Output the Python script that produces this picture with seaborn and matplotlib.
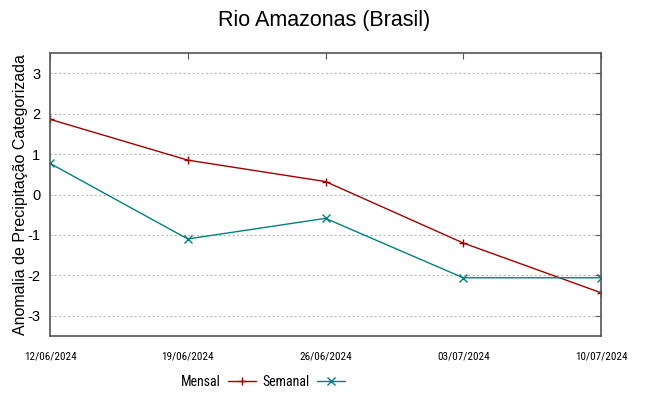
import pandas as pd
import matplotlib.pyplot as plt
import seaborn as sns
from matplotlib import font_manager

# Values
dates = ['12/06/2024', '19/06/2024', '26/06/2024', '03/07/2024', '10/07/2024']
mensal = [1.86, 0.85, 0.32, -1.20, -2.43]
semanal = [0.77, -1.10, -0.59, -2.06, -2.06]
series_names = ['Mensal', 'Semanal']
y_ticks = [-3, -2, -1, 0, 1, 2, 3]

x = pd.to_datetime(dates, format='%d/%m/%Y')

sns.set_style('white')
plt.rcParams['font.family'] = ['Liberation Sans', 'DejaVu Sans']
plt.rcParams['text.color'] = 'black'
plt.rcParams['axes.labelcolor'] = 'black'
plt.rcParams['xtick.color'] = 'black'
plt.rcParams['ytick.color'] = 'black'

# narrow font for the date labels and legend, if there is one
names = {f.name for f in font_manager.fontManager.ttflist}
narrow = 'Liberation Sans'
for cand in ['Liberation Sans Narrow', 'Roboto Condensed', 'DejaVu Sans Condensed', 'Open Sans Condensed']:
    if cand in names:
        narrow = cand
        break

fig = plt.figure(figsize=(6.49, 3.96), dpi=100)
ax = fig.add_axes([50 / 649, 1 - 336 / 396, 551 / 649, 283 / 396])

styles = [('#a00000', '+'), ('#00807f', 'x')]
for name, vals, (col, mk) in zip(series_names, [mensal, semanal], styles):
    sns.lineplot(x=x, y=vals, color=col, marker=mk, markersize=6,
                 markeredgewidth=1, markeredgecolor=col, linewidth=1,
                 label=name, ax=ax)

ax.set_xlim(x.min(), x.max())
ax.set_ylim(-3.5, 3.5)
ax.set_xticks(x)
ax.set_xticklabels(dates, family=[narrow, 'DejaVu Sans'], fontsize=8)
ax.set_yticks(y_ticks)
ax.set_yticklabels([str(v) for v in y_ticks], fontsize=10.5)
ax.tick_params(direction='in', length=4, width=0.8, color='#555555',
               top=True, right=True)
ax.tick_params(axis='x', pad=11)
ax.tick_params(axis='y', pad=7)
ax.yaxis.grid(True, linestyle=(0, (1.5, 2.5)), color='#aaaaaa', linewidth=0.8)
ax.xaxis.grid(False)
for s in ax.spines.values():
    s.set_color('#555555')
    s.set_linewidth(1.2)

ax.set_xlabel('')
ax.set_ylabel('Anomalia de Precipitação Categorizada', fontsize=11.5, labelpad=-0.5)
fig.suptitle('Rio Amazonas (Brasil)', fontsize=15.5, y=0.975)

handles, labels = ax.get_legend_handles_labels()
ax.legend(handles, labels, loc='center', bbox_to_anchor=(263 / 649, 1 - 382 / 396),
          bbox_transform=fig.transFigure, ncol=2, frameon=False, markerfirst=False,
          prop={'family': [narrow, 'DejaVu Sans'], 'size': 10},
          handlelength=2, columnspacing=0.5, handletextpad=0.5)

plt.savefig('out.png', dpi=100)
